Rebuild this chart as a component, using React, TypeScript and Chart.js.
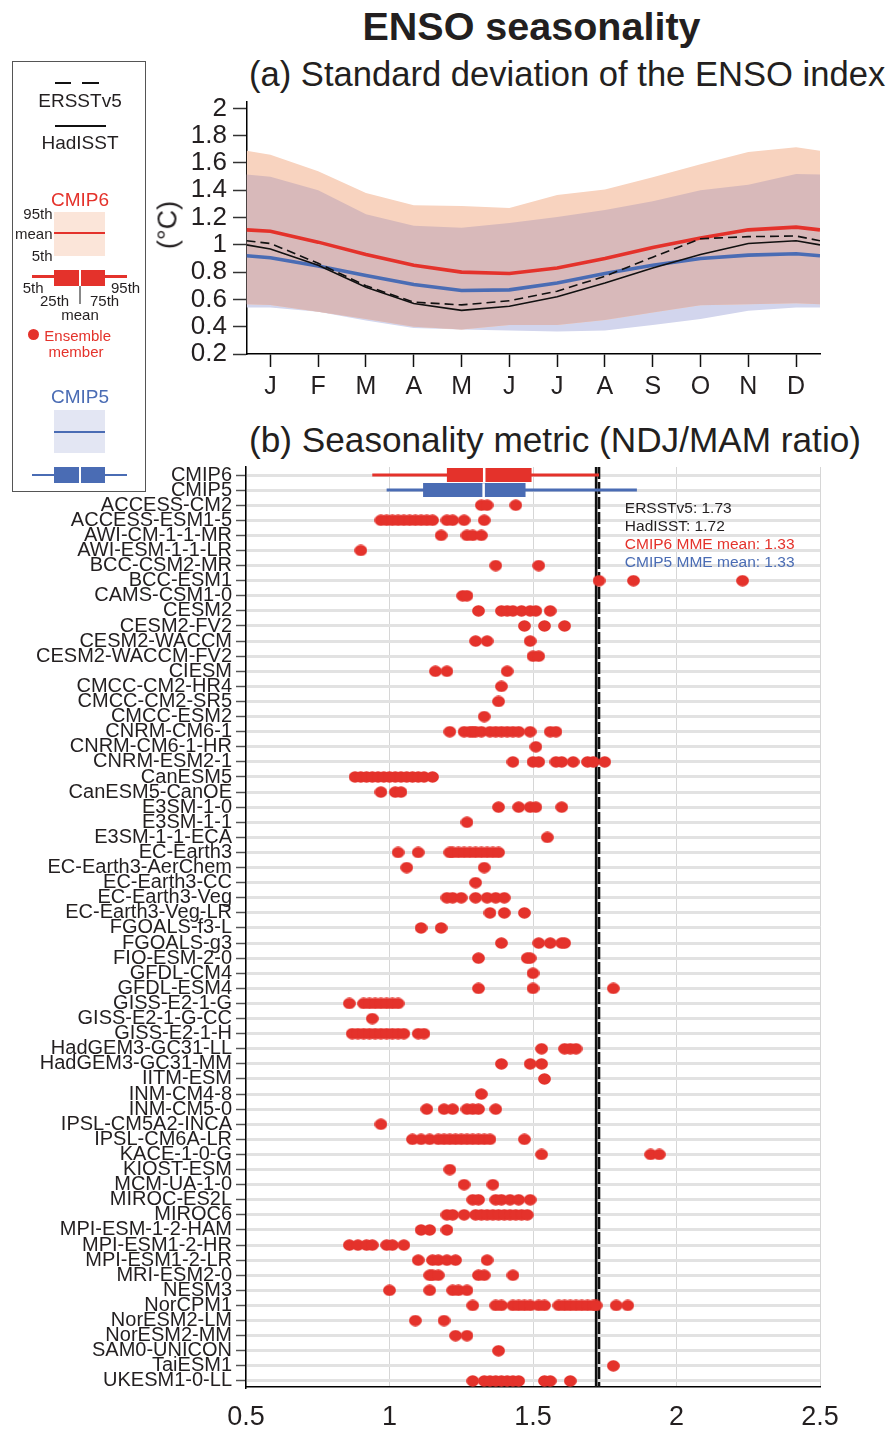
import React, { useEffect, useRef } from 'react';
import { Chart, registerables } from 'chart.js';
Chart.register(...registerables);

const FONT = '"Liberation Sans", Arial, Helvetica, sans-serif';
const RED = '#e4322b';
const BLUE = '#4a6cb4';
const INK = '#231f20';
const PEACH = '#f8d3bf';
const LAV = '#d2d5ed';
const MAUVE = '#d8b9ba';

// ---------- Panel (a): standard deviation of the ENSO index ----------
const monthLabels = ['J', 'F', 'M', 'A', 'M', 'J', 'J', 'A', 'S', 'O', 'N', 'D'];
const monthPos = [-0.5, 0, 1, 2, 3, 4, 5, 6, 7, 8, 9, 10, 11, 11.5];
const hadisst = [1.0, 0.97, 0.85, 0.69, 0.57, 0.52, 0.55, 0.62, 0.72, 0.83, 0.93, 1.01, 1.03, 1.0];
const ersst = [1.03, 1.01, 0.865, 0.70, 0.58, 0.56, 0.59, 0.66, 0.77, 0.91, 1.045, 1.06, 1.065, 1.03];
const cmip6Mean = [1.11, 1.10, 1.02, 0.93, 0.85, 0.80, 0.79, 0.83, 0.90, 0.98, 1.05, 1.11, 1.13, 1.11];
const cmip5Mean = [0.92, 0.905, 0.845, 0.775, 0.71, 0.665, 0.67, 0.72, 0.79, 0.85, 0.90, 0.925, 0.935, 0.92];
const cmip6P95 = [1.69, 1.66, 1.54, 1.38, 1.29, 1.285, 1.27, 1.365, 1.405, 1.495, 1.59, 1.68, 1.715, 1.69];
const cmip6P5 = [0.565, 0.56, 0.51, 0.457, 0.40, 0.38, 0.413, 0.413, 0.45, 0.505, 0.558, 0.565, 0.572, 0.565];
const cmip5P95 = [1.515, 1.50, 1.40, 1.225, 1.14, 1.125, 1.16, 1.205, 1.255, 1.32, 1.40, 1.44, 1.52, 1.515];
const cmip5P5 = [0.54, 0.54, 0.51, 0.445, 0.39, 0.38, 0.373, 0.365, 0.373, 0.413, 0.457, 0.517, 0.54, 0.54];
const yTicksA = [0.2, 0.4, 0.6, 0.8, 1.0, 1.2, 1.4, 1.6, 1.8, 2.0];

// ---------- Panel (b): seasonality metric ----------
const modelNames = [
  'ACCESS-CM2', 'ACCESS-ESM1-5', 'AWI-CM-1-1-MR', 'AWI-ESM-1-1-LR', 'BCC-CSM2-MR', 'BCC-ESM1',
  'CAMS-CSM1-0', 'CESM2', 'CESM2-FV2', 'CESM2-WACCM', 'CESM2-WACCM-FV2', 'CIESM', 'CMCC-CM2-HR4',
  'CMCC-CM2-SR5', 'CMCC-ESM2', 'CNRM-CM6-1', 'CNRM-CM6-1-HR', 'CNRM-ESM2-1', 'CanESM5',
  'CanESM5-CanOE', 'E3SM-1-0', 'E3SM-1-1', 'E3SM-1-1-ECA', 'EC-Earth3', 'EC-Earth3-AerChem',
  'EC-Earth3-CC', 'EC-Earth3-Veg', 'EC-Earth3-Veg-LR', 'FGOALS-f3-L', 'FGOALS-g3', 'FIO-ESM-2-0',
  'GFDL-CM4', 'GFDL-ESM4', 'GISS-E2-1-G', 'GISS-E2-1-G-CC', 'GISS-E2-1-H', 'HadGEM3-GC31-LL',
  'HadGEM3-GC31-MM', 'IITM-ESM', 'INM-CM4-8', 'INM-CM5-0', 'IPSL-CM5A2-INCA', 'IPSL-CM6A-LR',
  'KACE-1-0-G', 'KIOST-ESM', 'MCM-UA-1-0', 'MIROC-ES2L', 'MIROC6', 'MPI-ESM-1-2-HAM',
  'MPI-ESM1-2-HR', 'MPI-ESM1-2-LR', 'MRI-ESM2-0', 'NESM3', 'NorCPM1', 'NorESM2-LM', 'NorESM2-MM',
  'SAM0-UNICON', 'TaiESM1', 'UKESM1-0-LL',
];
const memberValues: number[][] = [
  [1.32, 1.34, 1.44], // ACCESS-CM2
  [0.97, 0.99, 1.01, 1.03, 1.05, 1.07, 1.09, 1.11, 1.13, 1.15, 1.20, 1.22, 1.26, 1.33], // ACCESS-ESM1-5
  [1.18, 1.27, 1.29, 1.32], // AWI-CM-1-1-MR
  [0.90], // AWI-ESM-1-1-LR
  [1.37, 1.52], // BCC-CSM2-MR
  [1.73, 1.85, 2.23], // BCC-ESM1
  [1.255, 1.27], // CAMS-CSM1-0
  [1.31, 1.39, 1.41, 1.43, 1.46, 1.49, 1.51, 1.56], // CESM2
  [1.47, 1.54, 1.61], // CESM2-FV2
  [1.30, 1.34, 1.49], // CESM2-WACCM
  [1.50, 1.52], // CESM2-WACCM-FV2
  [1.16, 1.20, 1.41], // CIESM
  [1.39], // CMCC-CM2-HR4
  [1.38], // CMCC-CM2-SR5
  [1.33], // CMCC-ESM2
  [1.21, 1.26, 1.28, 1.29, 1.30, 1.32, 1.35, 1.37, 1.39, 1.41, 1.43, 1.45, 1.49, 1.56, 1.58], // CNRM-CM6-1
  [1.51], // CNRM-CM6-1-HR
  [1.43, 1.50, 1.52, 1.58, 1.60, 1.64, 1.69, 1.71, 1.75], // CNRM-ESM2-1
  [0.88, 0.90, 0.92, 0.94, 0.96, 0.98, 1.00, 1.02, 1.04, 1.06, 1.08, 1.10, 1.12, 1.15], // CanESM5
  [0.97, 1.02, 1.04], // CanESM5-CanOE
  [1.38, 1.45, 1.49, 1.51, 1.60], // E3SM-1-0
  [1.27], // E3SM-1-1
  [1.55], // E3SM-1-1-ECA
  [1.03, 1.10, 1.21, 1.22, 1.24, 1.26, 1.28, 1.30, 1.32, 1.34, 1.36, 1.38], // EC-Earth3
  [1.06, 1.33], // EC-Earth3-AerChem
  [1.30], // EC-Earth3-CC
  [1.20, 1.22, 1.25, 1.30, 1.34, 1.37, 1.40], // EC-Earth3-Veg
  [1.35, 1.40, 1.47], // EC-Earth3-Veg-LR
  [1.11, 1.18], // FGOALS-f3-L
  [1.39, 1.52, 1.56, 1.60, 1.61], // FGOALS-g3
  [1.31, 1.48, 1.49], // FIO-ESM-2-0
  [1.50], // GFDL-CM4
  [1.31, 1.50, 1.78], // GFDL-ESM4
  [0.86, 0.91, 0.93, 0.95, 0.97, 0.99, 1.01, 1.03], // GISS-E2-1-G
  [0.94], // GISS-E2-1-G-CC
  [0.87, 0.89, 0.91, 0.93, 0.95, 0.97, 0.99, 1.01, 1.03, 1.05, 1.10, 1.12], // GISS-E2-1-H
  [1.53, 1.61, 1.63, 1.65], // HadGEM3-GC31-LL
  [1.39, 1.49, 1.53], // HadGEM3-GC31-MM
  [1.54], // IITM-ESM
  [1.32], // INM-CM4-8
  [1.13, 1.19, 1.22, 1.27, 1.29, 1.31, 1.37], // INM-CM5-0
  [0.97], // IPSL-CM5A2-INCA
  [1.08, 1.11, 1.14, 1.17, 1.19, 1.21, 1.23, 1.25, 1.27, 1.29, 1.31, 1.33, 1.35, 1.47], // IPSL-CM6A-LR
  [1.53, 1.91, 1.94], // KACE-1-0-G
  [1.21], // KIOST-ESM
  [1.26, 1.36], // MCM-UA-1-0
  [1.29, 1.31, 1.37, 1.39, 1.42, 1.45, 1.49], // MIROC-ES2L
  [1.20, 1.22, 1.26, 1.30, 1.32, 1.34, 1.36, 1.38, 1.40, 1.42, 1.44, 1.46, 1.48], // MIROC6
  [1.11, 1.14, 1.20], // MPI-ESM-1-2-HAM
  [0.86, 0.89, 0.92, 0.94, 0.99, 1.01, 1.05], // MPI-ESM1-2-HR
  [1.10, 1.15, 1.17, 1.20, 1.23, 1.34], // MPI-ESM1-2-LR
  [1.14, 1.15, 1.17, 1.31, 1.33, 1.43], // MRI-ESM2-0
  [1.00, 1.14, 1.22, 1.24, 1.27], // NESM3
  [1.29, 1.37, 1.39, 1.43, 1.45, 1.47, 1.49, 1.52, 1.54, 1.59, 1.61, 1.63, 1.65, 1.67, 1.69, 1.71, 1.72, 1.79, 1.83], // NorCPM1
  [1.09, 1.19], // NorESM2-LM
  [1.23, 1.27], // NorESM2-MM
  [1.38], // SAM0-UNICON
  [1.78], // TaiESM1
  [1.29, 1.33, 1.35, 1.37, 1.39, 1.41, 1.43, 1.45, 1.54, 1.56, 1.63], // UKESM1-0-LL
];
// p5, p25, mean, p75, p95
const cmip6Box = [0.94, 1.20, 1.33, 1.495, 1.73];
const cmip5Box = [0.99, 1.117, 1.328, 1.474, 1.862];
const obsNames = ['ERSSTv5', 'HadISST'];
const obsRatio = [1.73, 1.72];
const mmeMean = [1.33, 1.33]; // CMIP6, CMIP5
const xTicksB = [0.5, 1, 1.5, 2, 2.5];

const rowLabels = ['CMIP6', 'CMIP5', ...modelNames];
const Y_MIN = -0.53;
const Y_MAX = 60.4;

const xy = (vals: number[]) => vals.map((v, i) => ({ x: monthPos[i], y: v }));

function PanelA() {
  const ref = useRef<HTMLCanvasElement>(null);
  useEffect(() => {
    const overlapHi = cmip6P95.map((v, i) => Math.min(v, cmip5P95[i]));
    const overlapLo = cmip6P5.map((v, i) => Math.max(v, cmip5P5[i]));
    const none = 'rgba(0,0,0,0)';
    const chart = new Chart(ref.current!, {
      type: 'line',
      data: {
        datasets: [
          { label: 'HadISST', data: xy(hadisst), borderColor: '#111', borderWidth: 1.6, pointRadius: 0, fill: false },
          { label: 'ERSSTv5', data: xy(ersst), borderColor: '#111', borderWidth: 1.6, borderDash: [9, 5], pointRadius: 0, fill: false },
          { label: 'CMIP6', data: xy(cmip6Mean), borderColor: RED, borderWidth: 3.6, pointRadius: 0, fill: false },
          { label: 'CMIP5', data: xy(cmip5Mean), borderColor: BLUE, borderWidth: 3.6, pointRadius: 0, fill: false },
          { data: xy(overlapHi), borderColor: none, pointRadius: 0, fill: '+1', backgroundColor: MAUVE },
          { data: xy(overlapLo), borderColor: none, pointRadius: 0, fill: false },
          { data: xy(cmip6P95), borderColor: none, pointRadius: 0, fill: '+1', backgroundColor: PEACH },
          { data: xy(cmip6P5), borderColor: none, pointRadius: 0, fill: false },
          { data: xy(cmip5P95), borderColor: none, pointRadius: 0, fill: '+1', backgroundColor: LAV },
          { data: xy(cmip5P5), borderColor: none, pointRadius: 0, fill: false },
        ],
      },
      options: {
        animation: false,
        responsive: false,
        events: [],
        plugins: { legend: { display: false }, tooltip: { enabled: false }, filler: { drawTime: 'beforeDatasetsDraw' } as any },
        layout: { padding: { top: 17.4, right: 69, left: 0, bottom: 0 } },
        scales: {
          x: {
            type: 'linear', min: -0.5, max: 11.5,
            afterBuildTicks: (s: any) => { s.ticks = monthLabels.map((_, i) => ({ value: i })); },
            afterFit: (s: any) => { s.height = 66; },
            ticks: { autoSkip: false, maxRotation: 0, callback: (v: any) => monthLabels[v] ?? '', font: { size: 25, family: FONT }, color: INK, padding: 5 },
            grid: { drawOnChartArea: false, tickLength: 13, tickWidth: 1.5, tickColor: '#111', color: '#111' },
            border: { display: true, color: '#000', width: 1.5 },
          },
          y: {
            type: 'linear', min: 0.2, max: 2.05,
            afterBuildTicks: (s: any) => { s.ticks = yTicksA.map((v) => ({ value: v })); },
            afterFit: (s: any) => { s.width = 96.5; },
            ticks: { autoSkip: false, callback: (v: any) => String(+Number(v).toFixed(1)), font: { size: 26, family: FONT }, color: INK, padding: 6 },
            grid: { drawOnChartArea: false, tickLength: 13.5, tickWidth: 1.5, tickColor: '#333', color: '#333' },
            border: { display: true, color: '#000', width: 1.5 },
          },
        },
      } as any,
    });
    return () => chart.destroy();
  }, []);
  return <canvas ref={ref} width={739} height={340} style={{ position: 'absolute', left: 150, top: 80 }} />;
}

function PanelB() {
  const ref = useRef<HTMLCanvasElement>(null);
  useEffect(() => {
    const dot = document.createElement('canvas');
    dot.width = 13;
    dot.height = 12;
    const dc = dot.getContext('2d')!;
    dc.fillStyle = RED;
    dc.beginPath();
    dc.ellipse(6.5, 6, 6.4, 5.8, 0, 0, Math.PI * 2);
    dc.fill();

    const memberPoints = modelNames.flatMap((_, i) => memberValues[i].map((v) => ({ x: v, y: i + 2 })));
    const seg = (x0: number, y0: number, x1: number, y1: number) => [{ x: x0, y: y0 }, { x: x1, y: y1 }];
    const lineDs = (data: any, color: string, width: number, extra: any = {}) => ({
      data, borderColor: color, borderWidth: width, showLine: true, pointRadius: 0, borderCapStyle: 'butt', ...extra,
    });
    const boxDs = (b: number[], row: number, color: string) => [
      lineDs(seg(b[2], row - 0.46, b[2], row + 0.46), '#ffffff', 2.5),
      lineDs(seg(b[1], row, b[3], row), color, 14),
      lineDs(seg(b[0], row, b[4], row), color, 3),
    ];

    const annotPlugin = {
      id: 'annot',
      afterDatasetsDraw(chart: any) {
        const { ctx, scales } = chart;
        const lines = [
          { t: `${obsNames[0]}: ${obsRatio[0].toFixed(2)}`, c: INK },
          { t: `${obsNames[1]}: ${obsRatio[1].toFixed(2)}`, c: INK },
          { t: `CMIP6 MME mean: ${mmeMean[0].toFixed(2)}`, c: RED },
          { t: `CMIP5 MME mean: ${mmeMean[1].toFixed(2)}`, c: BLUE },
        ];
        ctx.save();
        ctx.font = `15.5px ${FONT}`;
        ctx.textBaseline = 'middle';
        ctx.textAlign = 'left';
        lines.forEach((l, i) => {
          ctx.fillStyle = l.c;
          ctx.fillText(l.t, scales.x.getPixelForValue(1.82), scales.y.getPixelForValue(2.25 + i * 1.19));
        });
        ctx.restore();
      },
    };

    const chart = new Chart(ref.current!, {
      type: 'scatter',
      data: {
        datasets: [
          { data: memberPoints, pointStyle: dot, pointRadius: 6, showLine: false },
          ...boxDs(cmip6Box, 0, RED),
          ...boxDs(cmip5Box, 1, BLUE),
          lineDs(seg(obsRatio[0], Y_MIN, obsRatio[0], Y_MAX), '#111', 2.6, { borderDash: [12, 3] }),
          lineDs(seg(obsRatio[1], Y_MIN, obsRatio[1], Y_MAX), '#111', 2.6),
        ] as any,
      },
      options: {
        animation: false,
        responsive: false,
        events: [],
        plugins: { legend: { display: false }, tooltip: { enabled: false } },
        layout: { padding: { top: 27, right: 69, left: 0, bottom: 0 } },
        scales: {
          x: {
            type: 'linear', min: 0.5, max: 2.5,
            afterBuildTicks: (s: any) => { s.ticks = xTicksB.map((v) => ({ value: v })); },
            afterFit: (s: any) => { s.height = 44; },
            ticks: { autoSkip: false, maxRotation: 0, callback: (v: any) => String(v), font: { size: 27, family: FONT }, color: INK, padding: 14 },
            grid: { color: '#d6d6d6', lineWidth: 1, drawTicks: false },
            border: { display: true, color: '#000', width: 1.5 },
          },
          y: {
            type: 'linear', reverse: true, min: Y_MIN, max: Y_MAX,
            afterBuildTicks: (s: any) => { s.ticks = rowLabels.map((_, i) => ({ value: i })); },
            afterFit: (s: any) => { s.width = 246; },
            ticks: { autoSkip: false, callback: (v: any) => rowLabels[v] ?? '', font: { size: 20, family: FONT }, color: INK, padding: 4 },
            grid: { color: '#e2e2e2', lineWidth: 3, tickLength: 10, tickWidth: 1.5, tickColor: '#555' },
            border: { display: true, color: '#000', width: 1.5 },
          },
        },
      } as any,
      plugins: [annotPlugin],
    });
    return () => chart.destroy();
  }, []);
  return <canvas ref={ref} width={889} height={991} style={{ position: 'absolute', left: 0, top: 440 }} />;
}

type TP = { x: number; y: number; size: number; color?: string; align?: 'left' | 'center' | 'right'; bold?: boolean; children: React.ReactNode };
function T({ x, y, size, color = INK, align = 'left', bold = false, children }: TP) {
  const tx = align === 'center' ? 'translateX(-50%)' : align === 'right' ? 'translateX(-100%)' : 'none';
  return (
    <div style={{ position: 'absolute', left: x, top: y, fontSize: size, lineHeight: `${size}px`, color, whiteSpace: 'nowrap', transform: tx, fontWeight: bold ? 'bold' : 'normal' }}>
      {children}
    </div>
  );
}
function R({ x, y, w, h, c }: { x: number; y: number; w: number; h: number; c: string }) {
  return <div style={{ position: 'absolute', left: x, top: y, width: w, height: h, background: c }} />;
}

function Legend() {
  return (
    <>
      <div style={{ position: 'absolute', left: 12, top: 61, width: 134, height: 431, border: '1px solid #555', boxSizing: 'border-box' }} />
      <R x={55} y={82.2} w={16} h={1.6} c="#111" />
      <R x={82} y={82.2} w={17} h={1.6} c="#111" />
      <T x={80} y={90.6} size={19} align="center">ERSSTv5</T>
      <R x={55} y={125.2} w={51} h={1.6} c="#111" />
      <T x={80} y={133.2} size={19} align="center">HadISST</T>
      <T x={80} y={189.6} size={19} align="center" color={RED}>CMIP6</T>
      <R x={54} y={211.7} w={51} h={44} c="#fbe5d9" />
      <R x={54} y={232.4} w={51} h={1.9} c={RED} />
      <T x={52.5} y={205.6} size={15} align="right">95th</T>
      <T x={52.5} y={225.6} size={15} align="right">mean</T>
      <T x={52.5} y={248} size={15} align="right">5th</T>
      <R x={32.3} y={275.4} w={95} h={2.6} c={RED} />
      <R x={54} y={270} w={51} h={15.7} c={RED} />
      <R x={78.6} y={270} w={2.6} h={15.7} c="#fff" />
      <R x={79.2} y={285.7} w={1.5} h={18.6} c="#888" />
      <T x={22.7} y={279.6} size={15}>5th</T>
      <T x={111} y={279.6} size={15}>95th</T>
      <T x={40} y={293} size={15}>25th</T>
      <T x={90} y={293} size={15}>75th</T>
      <T x={80} y={307.3} size={15} align="center">mean</T>
      <div style={{ position: 'absolute', left: 27.8, top: 328.8, width: 11, height: 11, borderRadius: '50%', background: RED }} />
      <T x={44.3} y={328.3} size={15} color={RED}>Ensemble</T>
      <T x={76} y={344} size={15} align="center" color={RED}>member</T>
      <T x={80} y={387.2} size={19} align="center" color={BLUE}>CMIP5</T>
      <R x={54} y={410} w={51} h={43.3} c="#e3e6f3" />
      <R x={54} y={430.8} w={51} h={1.9} c={BLUE} />
      <R x={32.3} y={473.7} w={95} h={2.6} c={BLUE} />
      <R x={54} y={467} w={51} h={15.7} c={BLUE} />
      <R x={78.6} y={467} w={2.6} h={15.7} c="#fff" />
    </>
  );
}

export default function App() {
  Chart.defaults.font.family = FONT;
  return (
    <div style={{ position: 'absolute', left: 0, top: 0, width: 889, height: 1431, fontFamily: FONT, background: '#fff', overflow: 'hidden' }}>
      <T x={531.5} y={7} size={39.5} align="center" bold>ENSO seasonality</T>
      <T x={249} y={57} size={34.6}>(a) Standard deviation of the ENSO index</T>
      <T x={249} y={422} size={35.2}>(b) Seasonality metric (NDJ/MAM ratio)</T>
      <PanelA />
      <div style={{ position: 'absolute', left: 168, top: 225, fontSize: 27, lineHeight: '27px', color: INK, whiteSpace: 'nowrap', transform: 'translate(-50%, -50%) rotate(-90deg)' }}>
        (°C)
      </div>
      <PanelB />
      <Legend />
    </div>
  );
}
